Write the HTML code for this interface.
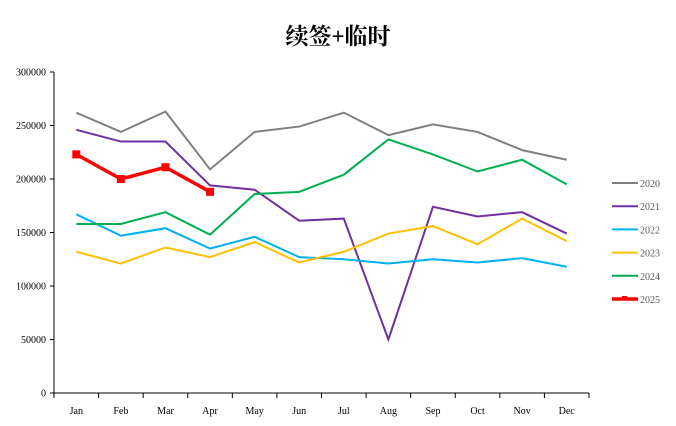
<!DOCTYPE html>
<html><head><meta charset="utf-8"><style>
body{margin:0;background:#fff;width:676px;height:426px;overflow:hidden}
svg{display:block}
text{font-family:"Liberation Serif","Noto Serif CJK SC",serif}
</style></head><body>
<svg id="c" width="676" height="426">
<text x="338" y="44" text-anchor="middle" font-size="23" font-weight="bold" fill="#000" style="font-family:'Liberation Serif','Noto Serif CJK SC',serif">续签+临时</text>
</svg>
<script>
const categories=["Jan","Feb","Mar","Apr","May","Jun","Jul","Aug","Sep","Oct","Nov","Dec"];
const yTicks=[0,50000,100000,150000,200000,250000,300000];
const seriesNames=["2020","2021","2022","2023","2024","2025"];
const seriesColors=["#808080","#7030a0","#00b0f0","#ffc000","#00b050","#ff0000"];
const s2020=[262000,244000,263000,209000,244000,249000,262000,241000,251000,244000,227000,218000];
const s2021=[246000,235000,235000,194000,190000,161000,163000,50000,174000,165000,169000,149000];
const s2022=[167000,147000,154000,135000,146000,127000,125000,121000,125000,122000,126000,118000];
const s2023=[132000,121000,136000,127000,141000,122000,132000,149000,156000,139000,163000,142000];
const s2024=[158000,158000,169000,148000,186000,188000,204000,237000,223000,207000,218000,195000];
const s2025=[223000,200000,211000,188000];
const allSeries=[s2020,s2021,s2022,s2023,s2024,s2025];
const svg=document.getElementById('c');const NS='http://www.w3.org/2000/svg';
const X0=54,X1=589,Y0=393,Y1=72;
const bw=(X1-X0)/categories.length;
const xs=i=>X0+bw*(i+0.5);
const ys=v=>Y0-(v/300000)*(Y0-Y1);
function el(t,a){const e=document.createElementNS(NS,t);for(const k in a)e.setAttribute(k,a[k]);svg.appendChild(e);return e;}
let ax=el('line',{x1:X0,y1:Y1,x2:X0,y2:Y0,stroke:'#000','stroke-width':1});


let bx=el('line',{x1:X0,y1:Y0,x2:X1,y2:Y0,stroke:'#000','stroke-width':1});


yTicks.forEach(v=>{const y=ys(v);
el('line',{x1:X0-4,y1:y,x2:X0,y2:y,stroke:'#000'});
const t=el('text',{x:X0-8,y:y+3.5,'text-anchor':'end','font-size':10,fill:'#000'});t.textContent=v;

});
for(let i=0;i<=categories.length;i++){const x=X0+bw*i;el('line',{x1:x,y1:Y0,x2:x,y2:Y0+5,stroke:'#000'});}
categories.forEach((c,i)=>{const t=el('text',{x:xs(i),y:414,'text-anchor':'middle','font-size':10,fill:'#000'});t.textContent=c;

});
allSeries.forEach((s,k)=>{
const p=el('polyline',{points:s.map((v,i)=>xs(i)+','+ys(v)).join(' '),fill:'none',stroke:seriesColors[k],'stroke-width':k==5?3.5:2,'stroke-linejoin':'miter'});


if(k==5)s.forEach((v,i)=>{const r=el('rect',{x:xs(i)-4,y:ys(v)-4,width:8,height:8,fill:'#ff0000'});

});
const ly=183+k*23.2;
const l=el('line',{x1:612,y1:ly,x2:638,y2:ly,stroke:seriesColors[k],'stroke-width':k==5?3.5:2});


if(k==5)el('rect',{x:622,y:ly-3,width:5,height:3,fill:'#ff0000'});
const t=el('text',{x:640,y:ly+4,'font-size':10,fill:'#595959'});t.textContent=seriesNames[k];


});
</script>
</body></html>
